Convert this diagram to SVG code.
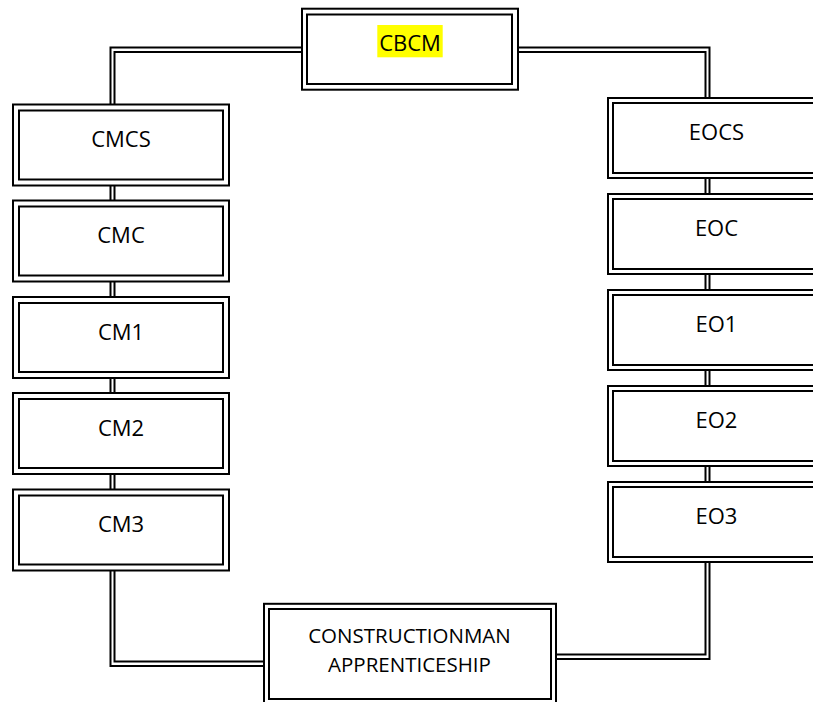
<svg xmlns="http://www.w3.org/2000/svg" width="813" height="702" viewBox="0 0 813 702">
  <style>
    .ln { fill: none; stroke: #000; stroke-width: 2; }
    .box { fill: #fff; stroke: #000; stroke-width: 2; }
    .in { fill: none; stroke: #000; stroke-width: 2; }
    .t { font-family: "Open Sans", "Noto Sans", "Liberation Sans", sans-serif; font-size: 22px; fill: #000; text-anchor: middle; }
  </style>
  <rect x="0" y="0" width="813" height="702" fill="#fff"/>

  <g id="connectors">
    <!-- CBCM to CMCS -->
    <path class="ln" d="M302 47.5 H110.5 V104.5"/>
    <path class="ln" d="M302 52 H114.5 V104.5"/>
    <!-- CBCM to EOCS -->
    <path class="ln" d="M518 47.5 H709.5 V98"/>
    <path class="ln" d="M518 52 H705.5 V98"/>
    <!-- left column links -->
    <path class="ln" d="M110.5 185.5 V200.5 M114.5 185.5 V200.5"/>
    <path class="ln" d="M110.5 281.5 V297 M114.5 281.5 V297"/>
    <path class="ln" d="M110.5 378 V393 M114.5 378 V393"/>
    <path class="ln" d="M110.5 474 V489.5 M114.5 474 V489.5"/>
    <!-- right column links -->
    <path class="ln" d="M705.5 178 V194 M709.5 178 V194"/>
    <path class="ln" d="M705.5 274 V290 M709.5 274 V290"/>
    <path class="ln" d="M705.5 370 V386 M709.5 370 V386"/>
    <path class="ln" d="M705.5 466 V482 M709.5 466 V482"/>
    <!-- CM3 to apprenticeship -->
    <path class="ln" d="M110.5 570.5 V666 H264"/>
    <path class="ln" d="M114.5 570.5 V661.5 H264"/>
    <!-- EO3 to apprenticeship -->
    <path class="ln" d="M709.5 562 V659 H556"/>
    <path class="ln" d="M705.5 562 V654.5 H556"/>
  </g>

  <g id="cbcm">
    <rect class="box" x="302" y="8.7" width="216" height="81"/>
    <rect class="in" x="307" y="14.5" width="205" height="69.5"/>
    <rect x="377.3" y="25" width="65.4" height="32.3" fill="#ffff00"/>
    <text class="t" x="410" y="50.5">CBCM</text>
  </g>

  <g id="cmcs">
    <rect class="box" x="13" y="104.5" width="216" height="81"/>
    <rect class="in" x="19" y="110.5" width="204" height="69"/>
    <text class="t" x="121" y="147">CMCS</text>
  </g>
  <g id="cmc">
    <rect class="box" x="13" y="200.5" width="216" height="81"/>
    <rect class="in" x="19" y="206.5" width="204" height="69"/>
    <text class="t" x="121" y="243">CMC</text>
  </g>
  <g id="cm1">
    <rect class="box" x="13" y="297" width="216" height="81"/>
    <rect class="in" x="19" y="303" width="204" height="69"/>
    <text class="t" x="121" y="339.5">CM1</text>
  </g>
  <g id="cm2">
    <rect class="box" x="13" y="393" width="216" height="81"/>
    <rect class="in" x="19" y="399" width="204" height="69"/>
    <text class="t" x="121" y="435.5">CM2</text>
  </g>
  <g id="cm3">
    <rect class="box" x="13" y="489.5" width="216" height="81"/>
    <rect class="in" x="19" y="495.5" width="204" height="69"/>
    <text class="t" x="121" y="531.5">CM3</text>
  </g>

  <g id="eocs">
    <rect class="box" x="608" y="98" width="230" height="80"/>
    <rect class="in" x="613" y="103" width="230" height="70"/>
    <text class="t" x="716.5" y="140">EOCS</text>
  </g>
  <g id="eoc">
    <rect class="box" x="608" y="194" width="230" height="80"/>
    <rect class="in" x="613" y="199" width="230" height="70"/>
    <text class="t" x="716.5" y="236">EOC</text>
  </g>
  <g id="eo1">
    <rect class="box" x="608" y="290" width="230" height="80"/>
    <rect class="in" x="613" y="295" width="230" height="70"/>
    <text class="t" x="716.5" y="332">EO1</text>
  </g>
  <g id="eo2">
    <rect class="box" x="608" y="386" width="230" height="80"/>
    <rect class="in" x="613" y="391" width="230" height="70"/>
    <text class="t" x="716.5" y="428">EO2</text>
  </g>
  <g id="eo3">
    <rect class="box" x="608" y="482" width="230" height="80"/>
    <rect class="in" x="613" y="487" width="230" height="70"/>
    <text class="t" x="716.5" y="524">EO3</text>
  </g>

  <g id="apprenticeship">
    <rect class="box" x="264" y="603.8" width="292" height="100"/>
    <rect class="in" x="269" y="609" width="282" height="90"/>
    <text class="t" x="409.5" y="643" style="font-size:20.5px">CONSTRUCTIONMAN</text>
    <text class="t" x="409.5" y="671.5" style="font-size:20.5px">APPRENTICESHIP</text>
  </g>
</svg>
